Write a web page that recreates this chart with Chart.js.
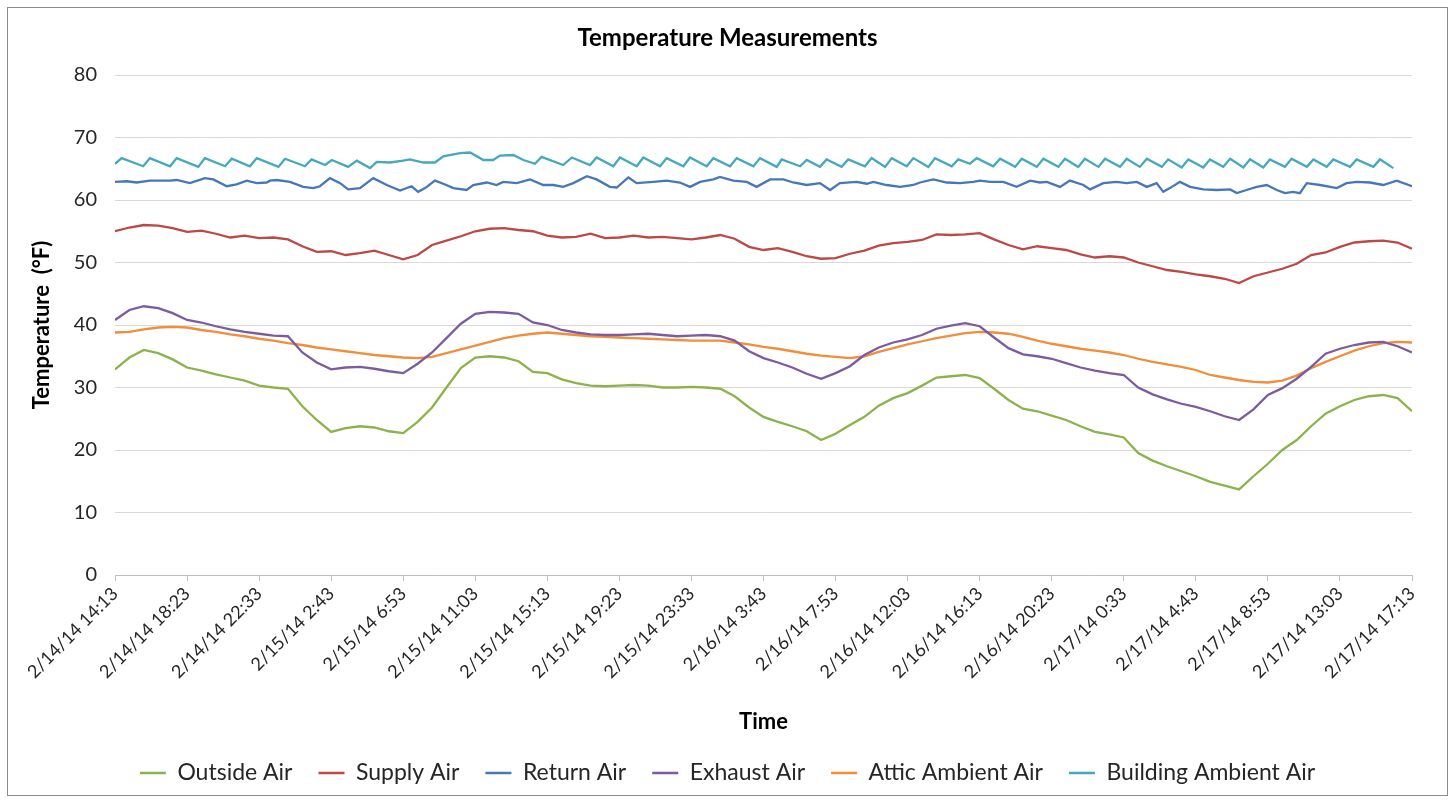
<!DOCTYPE html>
<html>
<head>
<meta charset="utf-8">
<title>Temperature Measurements</title>
<script src="https://cdn.jsdelivr.net/npm/chart.js@4.4.1/dist/chart.umd.min.js"></script>
<style>
  html, body { margin: 0; padding: 0; background: #fff; }
  #wrap { position: relative; width: 1455px; height: 800px; }
</style>
</head>
<body>
<div id="wrap"><canvas id="chart"></canvas></div>
<script>
// x axis is minutes after 2/14/14 14:13, a label every 250 minutes
const tickLabels = [
  '2/14/14 14:13', '2/14/14 18:23', '2/14/14 22:33', '2/15/14 2:43', '2/15/14 6:53',
  '2/15/14 11:03', '2/15/14 15:13', '2/15/14 19:23', '2/15/14 23:33', '2/16/14 3:43',
  '2/16/14 7:53', '2/16/14 12:03', '2/16/14 16:13', '2/16/14 20:23', '2/17/14 0:33',
  '2/17/14 4:43', '2/17/14 8:53', '2/17/14 13:03', '2/17/14 17:13'
];
const tickStep = 250;
const endMinute = 4500;

// smooth series, read every 50 minutes
const sampleStep = 50;

const outsideAir = [
  32.9, 34.8, 36.0, 35.5, 34.5, 33.2, 32.7, 32.1, 31.6, 31.1,
  30.3, 30.0, 29.8, 27.0, 24.8, 22.9, 23.5, 23.8, 23.6, 23.0,
  22.7, 24.5, 26.8, 30.0, 33.1, 34.8, 35.0, 34.8, 34.2, 32.5,
  32.3, 31.3, 30.7, 30.3, 30.2, 30.3, 30.4, 30.3, 30.0, 30.0,
  30.1, 30.0, 29.8, 28.6, 26.8, 25.3, 24.5, 23.8, 23.0, 21.6,
  22.6, 24.0, 25.3, 27.1, 28.3, 29.1, 30.3, 31.6, 31.8, 32.0,
  31.5, 29.8, 28.0, 26.6, 26.2, 25.5, 24.8, 23.8, 22.9, 22.5,
  22.0, 19.5, 18.3, 17.4, 16.6, 15.8, 14.9, 14.3, 13.7, 15.8,
  17.8, 20.0, 21.6, 23.8, 25.8, 27.0, 28.0, 28.6, 28.8, 28.3,
  26.2
];

const supplyAir = [
  55.0, 55.6, 56.0, 55.9, 55.5, 54.9, 55.1, 54.6, 54.0, 54.3,
  53.9, 54.0, 53.7, 52.6, 51.7, 51.8, 51.2, 51.5, 51.9, 51.2,
  50.5, 51.2, 52.8, 53.5, 54.2, 55.0, 55.4, 55.5, 55.2, 55.0,
  54.3, 54.0, 54.1, 54.6, 53.9, 54.0, 54.3, 54.0, 54.1, 53.9,
  53.7, 54.0, 54.4, 53.8, 52.5, 52.0, 52.3, 51.7, 51.0, 50.6,
  50.7, 51.4, 51.9, 52.7, 53.1, 53.3, 53.6, 54.5, 54.4, 54.5,
  54.7, 53.7, 52.8, 52.1, 52.6, 52.3, 52.0, 51.3, 50.8, 51.0,
  50.8, 50.0, 49.4, 48.8, 48.5, 48.1, 47.8, 47.4, 46.7, 47.8,
  48.4, 49.0, 49.8, 51.2, 51.6, 52.5, 53.2, 53.4, 53.5, 53.2,
  52.2
];

const exhaustAir = [
  40.8, 42.4, 43.0, 42.7, 41.9, 40.8, 40.4, 39.8, 39.3, 38.9,
  38.6, 38.3, 38.2, 35.6, 34.0, 32.9, 33.2, 33.3, 33.0, 32.6,
  32.3, 33.8, 35.6, 37.9, 40.2, 41.8, 42.1, 42.0, 41.8, 40.4,
  40.0, 39.2, 38.8, 38.5, 38.4, 38.4, 38.5, 38.6, 38.4, 38.2,
  38.3, 38.4, 38.2, 37.5, 35.8, 34.7, 34.0, 33.2, 32.2, 31.4,
  32.3, 33.4, 35.2, 36.4, 37.2, 37.7, 38.4, 39.4, 39.9, 40.3,
  39.8, 38.0, 36.3, 35.3, 35.0, 34.6, 33.9, 33.2, 32.7, 32.3,
  32.0, 30.0, 28.9, 28.1, 27.4, 26.9, 26.2, 25.4, 24.8, 26.5,
  28.8, 29.9, 31.4, 33.3, 35.4, 36.2, 36.8, 37.2, 37.3, 36.6,
  35.6
];

const atticAir = [
  38.8, 38.9, 39.3, 39.6, 39.7, 39.6, 39.2, 38.9, 38.5, 38.2,
  37.8, 37.5, 37.1, 36.8, 36.4, 36.1, 35.8, 35.5, 35.2, 35.0,
  34.8, 34.7, 34.9, 35.5, 36.1, 36.7, 37.3, 37.9, 38.3, 38.6,
  38.8, 38.6, 38.4, 38.2, 38.1, 38.0, 37.9, 37.8, 37.7, 37.6,
  37.5, 37.5, 37.5, 37.2, 36.9, 36.5, 36.2, 35.8, 35.4, 35.1,
  34.9, 34.7, 35.0, 35.7, 36.3, 36.9, 37.4, 37.9, 38.3, 38.7,
  38.9, 38.8, 38.6, 38.1, 37.5, 37.0, 36.6, 36.2, 35.9, 35.6,
  35.2, 34.6, 34.1, 33.7, 33.3, 32.8, 32.0, 31.6, 31.2, 30.9,
  30.8, 31.1, 31.9, 33.1, 34.1, 35.0, 35.9, 36.6, 37.1, 37.3,
  37.2
];

// wiggly series, read at their turning points (minutes, °F)
const returnMinutes = [
  0, 41, 75, 121, 191, 214, 260, 312, 341, 388,
  422, 457, 492, 526, 538, 561, 607, 653, 688, 711,
  746, 781, 809, 850, 896, 943, 989, 1029, 1052, 1076,
  1110, 1139, 1174, 1220, 1243, 1290, 1324, 1347, 1394, 1440,
  1486, 1521, 1555, 1590, 1637, 1671, 1717, 1741, 1781, 1810,
  1868, 1914, 1960, 1995, 2030, 2076, 2099, 2145, 2192, 2226,
  2273, 2319, 2353, 2400, 2446, 2481, 2515, 2573, 2608, 2631,
  2677, 2724, 2770, 2793, 2839, 2886, 2932, 2978, 3001, 3036,
  3082, 3128, 3175, 3209, 3233, 3279, 3313, 3360, 3383, 3429,
  3475, 3510, 3545, 3580, 3614, 3637, 3660, 3695, 3730, 3776,
  3822, 3869, 3892, 3926, 3961, 3996, 4031, 4059, 4088, 4111,
  4135, 4181, 4239, 4273, 4308, 4354, 4400, 4447, 4500
];
const returnAir = [
  62.9, 63.0, 62.8, 63.1, 63.1, 63.2, 62.7, 63.5, 63.3, 62.2,
  62.5, 63.1, 62.7, 62.8, 63.1, 63.2, 62.9, 62.1, 61.9, 62.2,
  63.5, 62.7, 61.7, 61.9, 63.5, 62.4, 61.5, 62.2, 61.3, 61.9,
  63.1, 62.6, 61.9, 61.6, 62.4, 62.8, 62.4, 62.9, 62.7, 63.3,
  62.4, 62.4, 62.1, 62.7, 63.8, 63.3, 62.1, 62.0, 63.6, 62.7,
  62.9, 63.1, 62.8, 62.1, 62.9, 63.3, 63.7, 63.1, 62.9, 62.1,
  63.3, 63.3, 62.8, 62.4, 62.7, 61.6, 62.7, 62.9, 62.6, 62.9,
  62.4, 62.1, 62.4, 62.8, 63.3, 62.8, 62.7, 62.9, 63.1, 62.9,
  62.9, 62.1, 63.1, 62.8, 62.9, 62.1, 63.1, 62.4, 61.7, 62.7,
  62.9, 62.7, 62.9, 62.1, 62.7, 61.3, 61.9, 62.9, 62.1, 61.7,
  61.6, 61.7, 61.1, 61.6, 62.1, 62.4, 61.6, 61.1, 61.3, 61.1,
  62.7, 62.4, 61.9, 62.7, 62.9, 62.8, 62.4, 63.1, 62.2
];

const buildingMinutes = [
  0, 23, 98, 121, 191, 214, 289, 312, 382, 405,
  468, 492, 567, 590, 659, 682, 729, 752, 809, 839,
  885, 908, 954, 1000, 1023, 1070, 1110, 1139, 1197, 1232,
  1278, 1312, 1336, 1382, 1417, 1457, 1480, 1555, 1585, 1648,
  1671, 1729, 1752, 1810, 1833, 1891, 1914, 1972, 1995, 2053,
  2076, 2134, 2157, 2215, 2238, 2296, 2313, 2377, 2400, 2446,
  2469, 2521, 2544, 2602, 2625, 2672, 2695, 2747, 2770, 2822,
  2845, 2903, 2926, 2966, 2990, 3047, 3071, 3123, 3146, 3198,
  3221, 3273, 3296, 3342, 3365, 3412, 3435, 3487, 3510, 3556,
  3580, 3632, 3654, 3701, 3724, 3776, 3799, 3845, 3869, 3915,
  3938, 3984, 4007, 4059, 4082, 4135, 4158, 4204, 4227, 4285,
  4308, 4366, 4389, 4435
];
const buildingAir = [
  65.8, 66.7, 65.4, 66.7, 65.4, 66.7, 65.3, 66.7, 65.4, 66.6,
  65.4, 66.7, 65.3, 66.6, 65.4, 66.5, 65.6, 66.4, 65.3, 66.3,
  65.1, 66.1, 66.0, 66.3, 66.5, 66.0, 66.0, 67.0, 67.5, 67.6,
  66.4, 66.4, 67.1, 67.2, 66.4, 65.8, 66.9, 65.6, 66.8, 65.6,
  66.8, 65.4, 66.8, 65.4, 66.8, 65.4, 66.7, 65.4, 66.8, 65.4,
  66.7, 65.4, 66.7, 65.4, 66.7, 65.3, 66.5, 65.4, 66.4, 65.3,
  66.5, 65.3, 66.5, 65.4, 66.7, 65.3, 66.7, 65.4, 66.7, 65.3,
  66.7, 65.4, 66.5, 65.8, 66.7, 65.4, 66.6, 65.3, 66.6, 65.3,
  66.6, 65.3, 66.6, 65.3, 66.6, 65.3, 66.6, 65.3, 66.6, 65.3,
  66.6, 65.3, 66.5, 65.2, 66.5, 65.2, 66.5, 65.3, 66.6, 65.2,
  66.5, 65.2, 66.5, 65.3, 66.6, 65.3, 66.5, 65.3, 66.5, 65.3,
  66.5, 65.3, 66.5, 65.1
];

const seriesNames = ['Outside Air', 'Supply Air', 'Return Air', 'Exhaust Air', 'Attic Ambient Air', 'Building Ambient Air'];
const seriesColors = ['#8db24c', '#bd4845', '#4677b8', '#7b5c9e', '#f28d3a', '#45a8bd'];

const FONT = 'Lato, "Open Sans", sans-serif';

function sampled(values, step) {
  return values.map((v, i) => ({ x: i * step, y: v }));
}
function paired(times, values) {
  return times.map((t, i) => ({ x: t, y: values[i] }));
}

const seriesData = [
  sampled(outsideAir, sampleStep),
  sampled(supplyAir, sampleStep),
  paired(returnMinutes, returnAir),
  sampled(exhaustAir, sampleStep),
  sampled(atticAir, sampleStep),
  paired(buildingMinutes, buildingAir)
];

const frame = {
  id: 'frame',
  beforeDraw(chart) {
    const ctx = chart.ctx;
    ctx.save();
    ctx.fillStyle = '#ffffff';
    ctx.fillRect(0, 0, chart.width, chart.height);
    ctx.strokeStyle = '#8c8c8c';
    ctx.lineWidth = 1;
    ctx.strokeRect(7.5, 7.5, chart.width - 15, chart.height - 12);
    ctx.restore();
  }
};

new Chart(document.getElementById('chart'), {
  type: 'line',
  data: {
    datasets: seriesNames.map((name, i) => ({
      label: name,
      data: seriesData[i],
      borderColor: seriesColors[i],
      backgroundColor: seriesColors[i],
      borderWidth: 2.3,
      pointRadius: 0,
      tension: 0,
      fill: false
    }))
  },
  options: {
    responsive: true,
    maintainAspectRatio: false,
    animation: false,
    layout: { padding: { top: 8, left: 8, right: 8, bottom: 5.5 } },
    plugins: {
      title: {
        display: true,
        text: 'Temperature Measurements',
        color: '#000000',
        font: { family: FONT, size: 24, weight: 'bold' },
        padding: { top: 15.6, bottom: 22.6 }
      },
      legend: {
        position: 'bottom',
        labels: {
          usePointStyle: true,
          pointStyle: 'line',
          pointStyleWidth: 26,
          color: '#262626',
          font: { family: FONT, size: 23 },
          padding: 26
        }
      },
      tooltip: { enabled: false }
    },
    scales: {
      x: {
        type: 'linear',
        min: 0,
        max: endMinute,
        afterFit: (s) => { s.height = 160.5; },
        ticks: {
          stepSize: tickStep,
          autoSkip: false,
          maxRotation: 45,
          minRotation: 45,
          padding: 2,
          color: '#262626',
          font: { family: FONT, size: 18 },
          callback: (v) => tickLabels[Math.round(v / tickStep)]
        },
        grid: {
          display: true,
          drawOnChartArea: false,
          drawTicks: true,
          tickLength: 6,
          color: '#bfbfbf'
        },
        border: { display: true, color: '#bfbfbf' },
        title: {
          display: true,
          text: 'Time',
          color: '#000000',
          font: { family: FONT, size: 22, weight: 'bold' },
          padding: { bottom: 0.5 }
        }
      },
      y: {
        min: 0,
        max: 80,
        afterFit: (s) => { s.width = 107; },
        ticks: {
          stepSize: 10,
          padding: 18,
          color: '#262626',
          font: { family: FONT, size: 20 }
        },
        grid: { color: '#d9d9d9', drawTicks: false },
        border: { display: false },
        title: {
          display: true,
          text: 'Temperature  (°F)',
          color: '#000000',
          font: { family: FONT, size: 22, weight: 'bold' },
          padding: { top: 21 }
        }
      },
      spacer: {
        position: 'right',
        display: true,
        afterFit: (s) => { s.width = 35; },
        ticks: { display: false },
        grid: { display: false, drawTicks: false },
        border: { display: false }
      }
    }
  },
  plugins: [frame]
});
</script>
</body>
</html>
